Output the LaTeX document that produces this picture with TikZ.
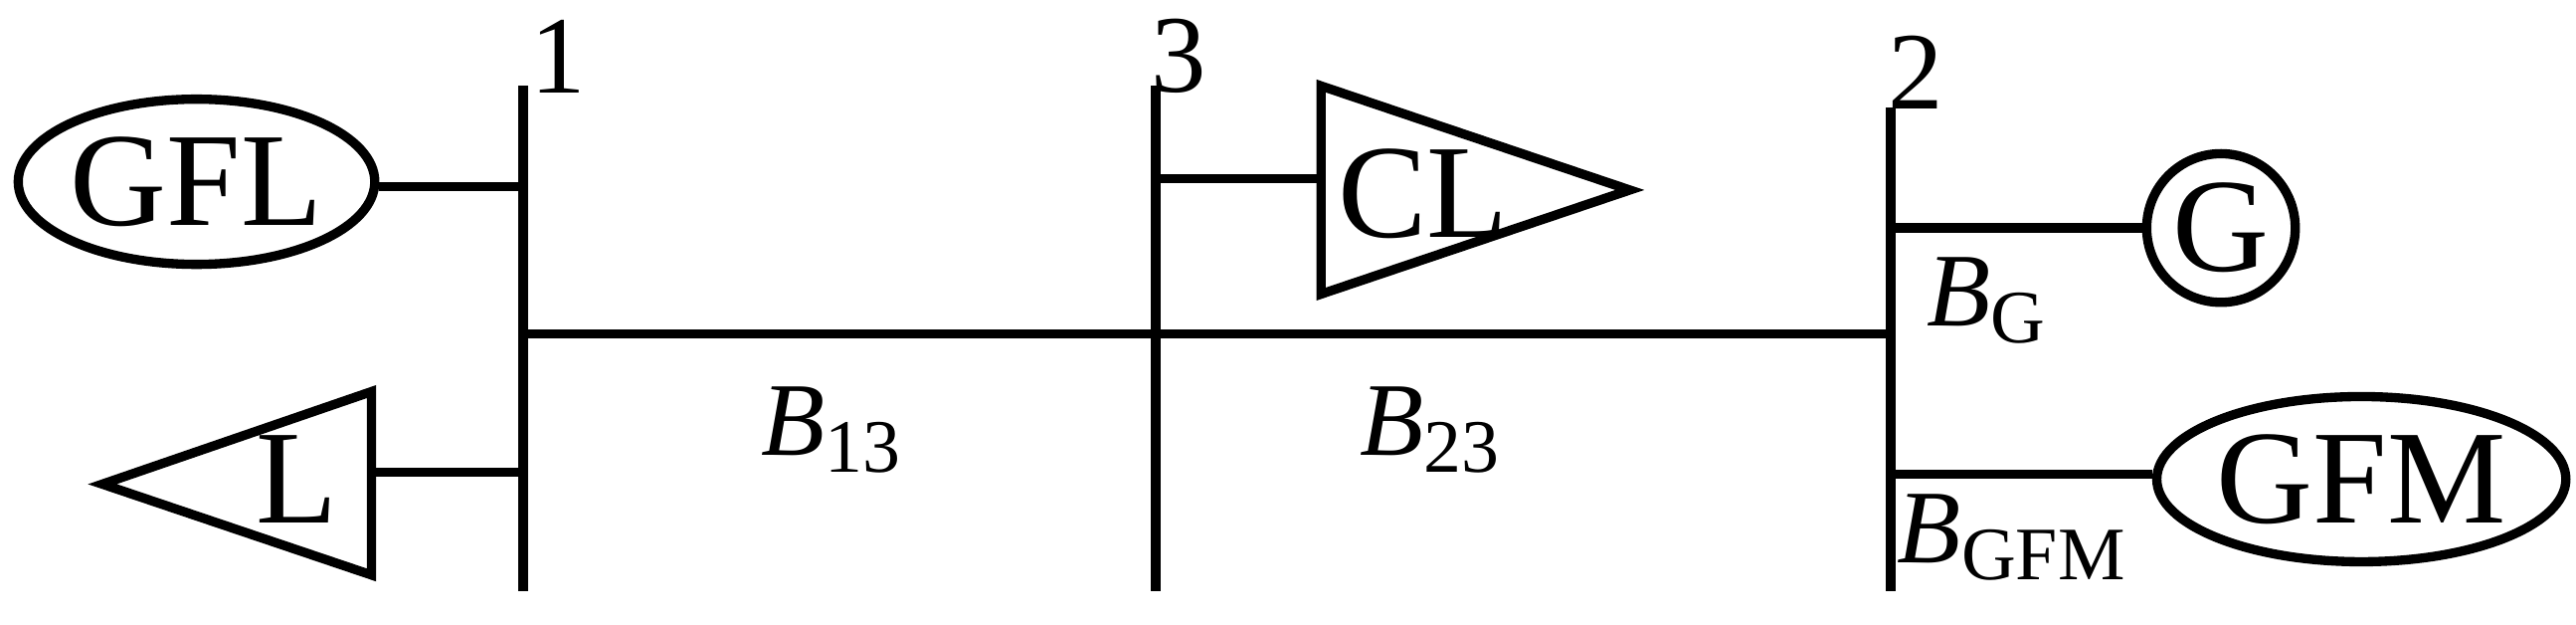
\documentclass[tikz,border=0pt]{standalone}
\usepackage{fontspec}
\setmainfont{Liberation Serif}
\usetikzlibrary{shapes.geometric}
\begin{document}
\begin{tikzpicture}[x=0.02cm,y=-0.02cm,line width=3.2pt,
  big/.style={font=\fontsize{46}{48}\selectfont},
  num/.style={font=\fontsize{38}{40}\selectfont},
  lab/.style={font=\fontsize{36}{38}\selectfont},
  sub/.style={font=\fontsize{26}{28}\selectfont},
  bus/.style={line width=3.4pt}]
\newcommand\Bsub[1]{$\mathit{B}$\raisebox{-0.35ex}{\fontsize{26}{28}\selectfont #1}}
\useasboundingbox (0,0) rectangle (1560,378);
% buses
\coordinate (b1t) at (317,52); \coordinate (b1b) at (317,358);
\coordinate (b3t) at (700,52); \coordinate (b3b) at (700,358);
\coordinate (b2t) at (1145,65); \coordinate (b2b) at (1145,358);
\draw[bus] (b1t) -- (b1b); \draw[bus] (b3t) -- (b3b); \draw[bus] (b2t) -- (b2b);
\node[num] (n1) at (338,34) {1};
\node[num] (n3) at (714,34) {3};
\node[num] (n2) at (1160,44) {2};
\coordinate (h1) at (317,202); \coordinate (h2) at (1145,202);
\draw (h1) -- (h2);
% GFL
\node[draw,ellipse,minimum width=4.24cm,minimum height=2cm,big,inner sep=0] (gfl) at (119,110) {GFL};
\coordinate (c1) at (317,113);
\draw (gfl.east |- c1) -- (c1);
% L
\coordinate (La) at (62,293); \coordinate (Lb) at (225,237); \coordinate (Lc) at (225,348);
\draw (La) -- (Lb) -- (Lc) -- cycle;
\node[big] (L) at (180,290) {L};
\coordinate (c2) at (225,286); \coordinate (c3) at (317,286);
\draw (c2) -- (c3);
% CL
\coordinate (Ca) at (800,52); \coordinate (Cb) at (800,178); \coordinate (Cc) at (987,115);
\draw (Ca) -- (Cc) -- (Cb) -- cycle;
\node[big] (CL) at (862,117) {CL};
\coordinate (c4) at (700,108); \coordinate (c5) at (800,108);
\draw (c4) -- (c5);
% G
\node[draw,circle,minimum size=1.8cm,big,inner sep=0] (G) at (1345,138) {G};
\coordinate (c6) at (1145,138);
\draw (c6) -- (G.west);
% GFM
\node[draw,ellipse,minimum width=4.7cm,minimum height=2cm,big,inner sep=0] (gfm) at (1430,290) {GFM};
\coordinate (c7) at (1145,287);
\draw (c7) -- (gfm.west |- c7);
% labels
\node[lab] (B13) at (503,260) {\Bsub{13}};
\node[lab] (B23) at (866,260) {\Bsub{23}};
\node[lab] (BG) at (1203,182) {\Bsub{G}};
\node[lab] (BGFM) at (1218,325) {\Bsub{GFM}};
\end{tikzpicture}
\end{document}
